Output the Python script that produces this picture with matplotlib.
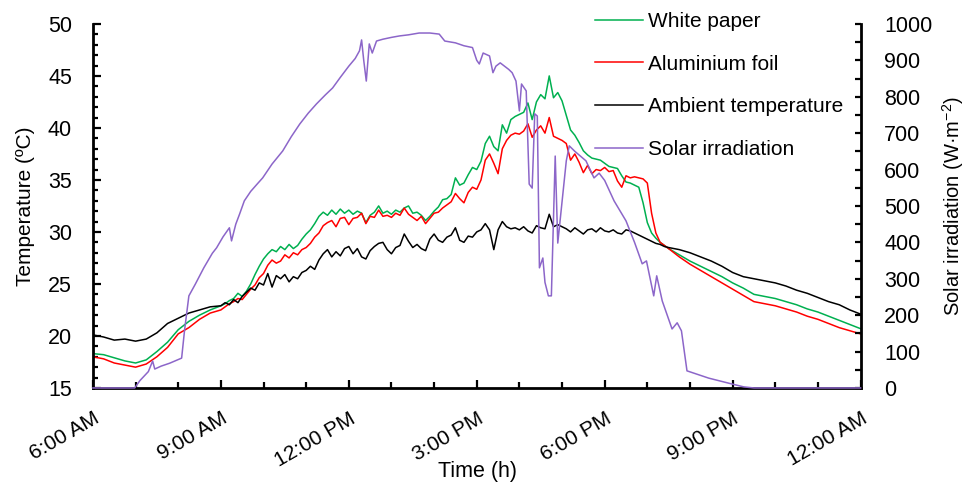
import numpy as np
import matplotlib
matplotlib.use("Agg")
import matplotlib.pyplot as plt
from matplotlib.ticker import FixedLocator, MultipleLocator

plt.rcParams['font.family'] = ['Liberation Sans', 'DejaVu Sans']
plt.rcParams['mathtext.fontset'] = 'custom'
plt.rcParams['mathtext.rm'] = 'Liberation Sans'
plt.rcParams['mathtext.it'] = 'Liberation Sans'
plt.rcParams['mathtext.default'] = 'regular'

# ---------------- data (hours of day) ----------------
hours_a = [6.0, 6.25, 6.5, 6.75, 7.0, 7.25, 7.5, 7.75, 8.0, 8.25, 8.5, 8.75]
hours_b = [9.0, 9.1, 9.2, 9.3, 9.4, 9.5, 9.6, 9.7, 9.8, 9.9,
           10.0, 10.1, 10.2, 10.3, 10.4, 10.5, 10.6, 10.7, 10.8, 10.9,
           11.0, 11.1, 11.2, 11.3, 11.4, 11.5, 11.6, 11.7, 11.8, 11.9,
           12.0, 12.1, 12.2, 12.3, 12.4, 12.5, 12.6, 12.7, 12.8, 12.9,
           13.0, 13.1, 13.2, 13.3, 13.4, 13.5, 13.6, 13.7, 13.8, 13.9,
           14.0, 14.1, 14.2, 14.3, 14.4, 14.5, 14.6, 14.7, 14.8, 14.9,
           15.0, 15.1, 15.2, 15.3, 15.4, 15.5, 15.6, 15.7, 15.8, 15.9,
           16.0, 16.1, 16.2, 16.3, 16.4, 16.5, 16.6, 16.7, 16.8, 16.9,
           17.0, 17.1, 17.2, 17.3, 17.4, 17.5, 17.6, 17.7, 17.8, 17.9,
           18.0, 18.1, 18.2, 18.3, 18.4, 18.5, 18.6, 18.7, 18.8, 18.9,
           19.0, 19.1, 19.2, 19.3, 19.4]
hours_c = [19.5, 19.75, 20.0, 20.25, 20.5, 20.75, 21.0, 21.25, 21.5, 21.75,
           22.0, 22.25, 22.5, 22.75, 23.0, 23.25, 23.5, 23.75, 24.0]
temp_hours = hours_a + hours_b + hours_c

white_paper = [18.3, 18.2, 17.9, 17.6, 17.4, 17.7, 18.5, 19.4, 20.6, 21.4, 22.0, 22.5,
               22.9, 23.1, 23.4, 23.6, 24.1, 23.8, 24.3, 25.0, 25.9, 26.7,
               27.4, 27.9, 28.3, 28.1, 28.6, 28.3, 28.8, 28.4, 28.7, 29.3,
               29.8, 30.2, 30.8, 31.5, 31.9, 31.6, 32.1, 31.7, 32.2, 31.8,
               32.1, 31.7, 32.0, 31.8, 30.9, 31.6, 31.9, 32.5, 31.8, 32.0,
               31.7, 32.1, 31.9, 32.3, 32.5, 31.8, 31.9, 31.6, 31.1, 31.5,
               32.0, 32.4, 33.1, 33.2, 33.6, 35.2, 34.5, 34.7, 35.5, 36.2,
               36.0, 36.8, 38.5, 39.2, 38.2, 37.8, 40.3, 39.5, 40.8, 41.1,
               41.3, 41.5, 42.4, 40.8, 42.5, 43.2, 42.8, 45.0, 42.9, 43.4,
               42.6, 41.2, 39.8, 39.3, 38.6, 37.8, 37.4, 37.1, 37.0, 36.9,
               36.6, 36.3, 36.2, 36.1, 35.4, 34.8, 34.7, 34.5, 34.3, 32.8,
               30.9, 29.9, 29.4, 29.0, 28.7,
               28.4, 27.8, 27.2, 26.7, 26.2, 25.7, 25.1, 24.6, 24.0, 23.8,
               23.6, 23.3, 23.0, 22.6, 22.3, 21.9, 21.5, 21.1, 20.7]

aluminium_foil = [18.0, 17.8, 17.4, 17.2, 17.0, 17.3, 18.0, 18.9, 20.2, 20.8, 21.6, 22.2,
                  22.5, 22.8, 23.1, 23.3, 23.6, 23.5, 24.0, 24.5, 24.9, 25.6,
                  26.0, 26.8, 27.3, 27.0, 27.2, 27.8, 27.5, 28.0, 27.8, 28.3,
                  28.5, 28.9, 29.5, 29.9, 30.6, 30.9, 31.1, 30.5, 31.3, 31.4,
                  30.7, 31.3, 31.4, 31.8, 30.8, 31.5, 31.4, 32.1, 31.5, 31.6,
                  31.4, 31.8, 31.6, 32.3, 31.7, 31.4, 31.1, 31.5, 30.8, 31.3,
                  31.8, 31.9, 32.3, 32.6, 32.9, 33.7, 33.2, 32.8, 33.8, 34.3,
                  34.1, 35.0, 36.9, 37.5, 36.6, 35.6, 38.0, 38.8, 39.3, 39.5,
                  39.4, 39.7, 40.4, 39.1, 39.8, 40.2, 39.5, 41.0, 39.2, 39.0,
                  38.8, 38.5, 36.9, 37.5, 36.7, 35.7, 36.4, 35.6, 36.0, 35.9,
                  36.2, 35.8, 35.9, 34.9, 34.3, 35.4, 35.2, 35.3, 35.2, 35.1,
                  34.7, 31.8, 29.9, 29.0, 28.7,
                  28.4, 27.6, 26.9, 26.3, 25.7, 25.1, 24.5, 23.9, 23.3, 23.1,
                  22.9, 22.6, 22.3, 21.9, 21.6, 21.2, 20.8, 20.5, 20.2]

ambient = [20.1, 19.9, 19.6, 19.7, 19.5, 19.7, 20.3, 21.2, 21.7, 22.2, 22.5, 22.8,
           22.9, 23.2, 23.0, 23.5, 23.2, 23.8, 24.2, 24.6, 24.4, 25.1,
           24.9, 26.0, 24.7, 25.8, 25.5, 25.9, 25.2, 25.7, 25.5, 26.1,
           26.3, 26.7, 26.4, 27.3, 27.9, 28.3, 27.6, 28.1, 27.7, 28.4,
           28.6, 27.9, 28.4, 27.6, 27.4, 28.2, 28.6, 28.9, 29.0, 28.3,
           27.9, 28.5, 28.7, 29.8, 29.1, 28.5, 28.8, 28.4, 28.2, 29.3,
           29.8, 29.2, 29.0, 29.5, 29.7, 30.4, 29.2, 29.0, 29.6, 29.5,
           30.0, 30.2, 30.8, 30.2, 28.3, 30.2, 31.0, 30.5, 30.3, 30.4,
           30.2, 30.5, 30.1, 29.9, 30.6, 30.4, 30.3, 31.7, 30.5, 30.7,
           30.5, 30.3, 30.0, 30.4, 30.1, 29.8, 30.2, 30.3, 30.0, 30.4,
           30.1, 30.0, 30.2, 29.9, 29.8, 30.2, 30.1, 29.9, 29.7, 29.5,
           29.3, 29.1, 28.9, 28.8, 28.6,
           28.5, 28.3, 28.0, 27.6, 27.2, 26.7, 26.1, 25.7, 25.5, 25.3,
           25.1, 24.8, 24.4, 24.1, 23.7, 23.3, 23.0, 22.5, 22.1]

solar_hours = [6.0, 6.98, 7.1, 7.3, 7.4, 7.45, 7.6, 7.8, 8.0, 8.08, 8.15, 8.25,
               8.4, 8.6, 8.8, 8.9, 9.05, 9.2, 9.25, 9.35, 9.44, 9.55, 9.7, 9.85,
               9.98, 10.2, 10.45, 10.65, 10.85, 11.05, 11.24, 11.45, 11.62, 11.8,
               12.0, 12.15, 12.25, 12.3, 12.35, 12.41, 12.48, 12.55, 12.65, 12.8,
               13.0, 13.19, 13.4, 13.65, 13.9, 14.12, 14.25, 14.5, 14.7, 14.9,
               15.0, 15.06, 15.15, 15.3, 15.38, 15.45, 15.55, 15.75, 15.83, 15.92,
               16.0, 16.05, 16.16, 16.23, 16.3, 16.36, 16.42, 16.47, 16.55, 16.6,
               16.68, 16.75, 16.84, 16.9, 17.1, 17.17, 17.3, 17.56, 17.75, 17.87,
               18.0, 18.22, 18.5, 18.7, 18.88, 18.98, 19.15, 19.22, 19.35, 19.58,
               19.7, 19.8, 19.93, 20.44, 20.98, 21.26, 21.5, 24.0]
solar_irradiation = [0, 0, 20, 45, 74, 52, 60, 68, 78, 82, 160, 253,
                     285, 330, 370, 385, 415, 440, 404, 450, 478, 514, 540, 560,
                     577, 615, 651, 690, 725, 755, 780, 805, 824, 853,
                     884, 905, 926, 956, 900, 843, 945, 920, 953, 958,
                     963, 967, 970, 975, 975, 972, 953, 948, 940, 935,
                     900, 890, 920, 912, 866, 884, 893, 875, 866, 843,
                     761, 835, 816, 560, 549, 753, 747, 330, 357, 290,
                     253, 253, 637, 398, 624, 665, 650, 624, 577, 590,
                     570, 514, 459, 400, 341, 349, 253, 308, 239, 162,
                     179, 157, 47, 27, 11, 3, 0, 0]

series_labels = ["White paper", "Aluminium foil", "Ambient temperature", "Solar irradiation"]
series_colors = ["#00B050", "#FF0000", "#000000", "#8C66C9"]

x_tick_hours = [6, 9, 12, 15, 18, 21, 24]
x_tick_labels = ["6:00 AM", "9:00 AM", "12:00 PM", "3:00 PM", "6:00 PM", "9:00 PM", "12:00 AM"]

# ---------------- figure ----------------
fig = plt.figure(figsize=(9.68, 4.88), dpi=100)
ax = fig.add_axes([0.096, 0.205, 0.793, 0.746])
ax2 = ax.twinx()

lw = 1.1
l1, = ax.plot(temp_hours, white_paper, color=series_colors[0], lw=lw)
l2, = ax.plot(temp_hours, aluminium_foil, color=series_colors[1], lw=lw)
l3, = ax.plot(temp_hours, ambient, color=series_colors[2], lw=lw)
l4, = ax2.plot(solar_hours, solar_irradiation, color=series_colors[3], lw=lw,
               clip_on=False, zorder=3)

ax.set_xlim(6, 24)
ax.set_ylim(15, 50)
ax2.set_ylim(0, 1000)

# spines
for a in (ax, ax2):
    a.spines['top'].set_visible(False)
ax.spines['left'].set_linewidth(2.0)
ax.spines['bottom'].set_linewidth(2.0)
ax.spines['right'].set_visible(False)
ax2.spines['right'].set_linewidth(2.0)
ax2.spines['left'].set_visible(False)
ax2.spines['bottom'].set_visible(False)

# x ticks
ax.xaxis.set_major_locator(FixedLocator(x_tick_hours))
ax.xaxis.set_minor_locator(MultipleLocator(1))
ax.set_xticklabels(x_tick_labels, rotation=30, ha='right', rotation_mode='anchor')
ax.tick_params(axis='x', which='major', direction='in', length=6, width=1.6,
               labelsize=15, pad=15)
ax.tick_params(axis='x', which='minor', direction='in', length=4.5, width=1.6)

# left y ticks
ax.yaxis.set_major_locator(MultipleLocator(5))
ax.yaxis.set_minor_locator(MultipleLocator(1))
ax.tick_params(axis='y', which='major', direction='in', length=5.5, width=1.6,
               labelsize=15.5, pad=15)
ax.tick_params(axis='y', which='minor', direction='in', length=3.5, width=1.6)

# right y ticks
ax2.yaxis.set_major_locator(MultipleLocator(100))
ax2.yaxis.set_minor_locator(MultipleLocator(50))
ax2.tick_params(axis='y', which='both', direction='in', length=4.5, width=1.6,
                labelsize=15.5, pad=17)

# labels
ax.set_ylabel("Temperature (ºC)", fontsize=15)
ax.yaxis.set_label_coords(-0.076, 0.5)
ax2.set_ylabel(r"Solar irradiation (W·m$^{-2}$)", fontsize=14.5)
ax2.yaxis.set_label_coords(1.104, 0.5)
ax.set_xlabel("Time (h)", fontsize=15.5)
ax.xaxis.set_label_coords(0.501, -0.2)

ax2.legend([l1, l2, l3, l4], series_labels, loc='upper left',
           bbox_to_anchor=(0.6147, 0.975), bbox_transform=fig.transFigure,
           frameon=False, fontsize=15, handlelength=2.3, handletextpad=0.25,
           labelspacing=1.13, borderpad=0, borderaxespad=0)

fig.savefig("out.png", dpi=100)
